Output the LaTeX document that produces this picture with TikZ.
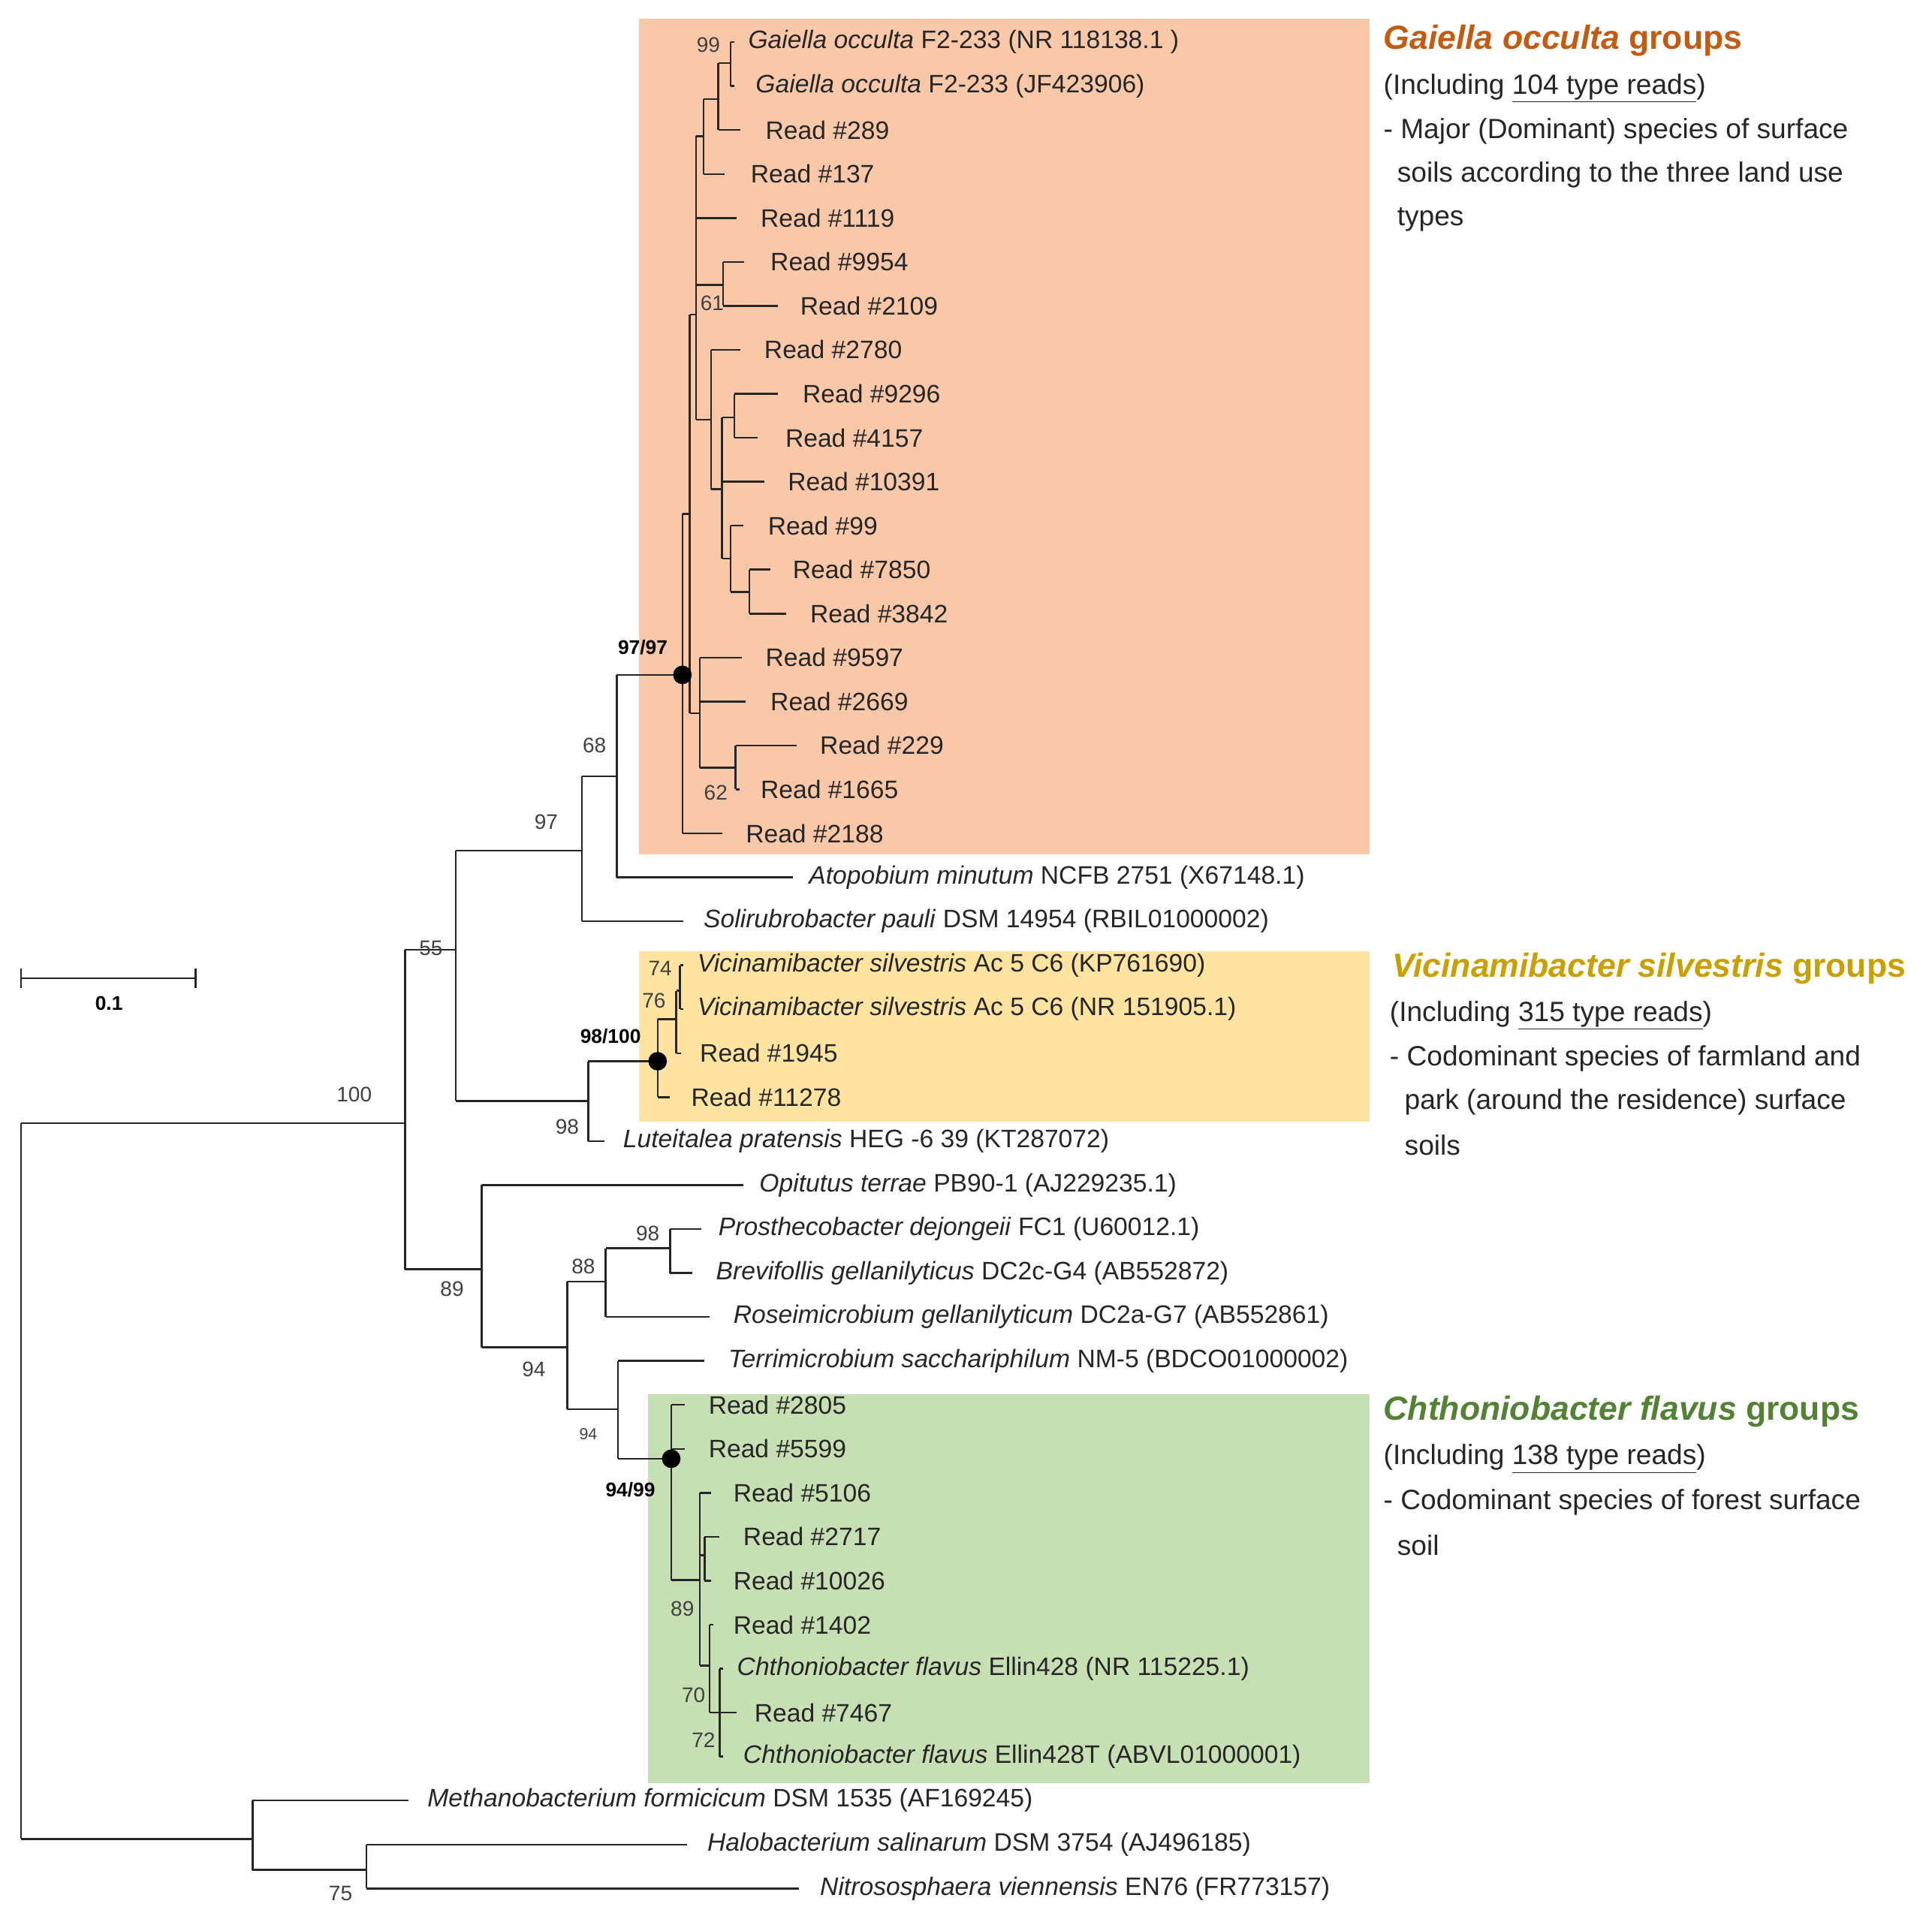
\documentclass[tikz,border=0pt]{standalone}
\usepackage{fontspec}
\setmainfont{Liberation Sans}
\begin{document}
\begin{tikzpicture}[x=1pt,y=-1pt,
  leaf/.style={anchor=west,inner sep=0pt,font=\fontsize{20.4}{20}\selectfont,color=black!85},
  sup/.style={inner sep=0pt,font=\fontsize{17}{17}\selectfont,color=black!75},
  bsup/.style={inner sep=0pt,font=\fontsize{16}{16}\selectfont\bfseries},
  ttl/.style={anchor=west,inner sep=0pt,font=\fontsize{27}{27}\selectfont\bfseries},
  desc/.style={anchor=west,inner sep=0pt,font=\fontsize{22.5}{22}\selectfont,color=black!85},
  br/.style={line width=1.5pt,color=black!85}]
\useasboundingbox (0,0) rectangle (1560,1547);
\fill[white] (0,0) rectangle (1560,1547);
\definecolor{orbox}{HTML}{F8C8A8}
\definecolor{yebox}{HTML}{FFE3A0}
\definecolor{grbox}{HTML}{C6E0B4}
\definecolor{ortx}{HTML}{C55A11}
\definecolor{yetx}{HTML}{C9A000}
\definecolor{grtx}{HTML}{548235}
\fill[orbox] (516,15) rectangle (1106,690);
\fill[yebox] (516,768) rectangle (1106,906);
\fill[grbox] (523,1126) rectangle (1106,1440);
\newcommand\leaf[5]{\coordinate (#1) at (#2,{34+35.5*#3});\node[leaf] (#1t) at (#4,{34+35.5*#3}) {#5};}
\newcommand\kids[2]{\foreach \c in {#2}{\draw[br] (#1 |- \c) -- (\c);}}
\newcommand\vln[3]{\draw[br] (#1 |- #2) -- (#1 |- #3);}
% leaves
\leaf{L0}{593}{0}{604}{\textit{Gaiella occulta} F2-233 (NR 118138.1 )}
\leaf{L1}{593}{1}{610}{\textit{Gaiella occulta} F2-233 (JF423906)}
\leaf{L2}{598}{2}{618}{Read \#289}
\leaf{L3}{585}{3}{606}{Read \#137}
\leaf{L4}{595}{4}{614}{Read \#1119}
\leaf{L5}{601}{5}{622}{Read \#9954}
\leaf{L6}{628}{6}{646}{Read \#2109}
\leaf{L7}{598}{7}{617}{Read \#2780}
\leaf{L8}{628}{8}{648}{Read \#9296}
\leaf{L9}{612}{9}{634}{Read \#4157}
\leaf{L10}{617}{10}{636}{Read \#10391}
\leaf{L11}{600}{11}{620}{Read \#99}
\leaf{L12}{622}{12}{640}{Read \#7850}
\leaf{L13}{635}{13}{654}{Read \#3842}
\leaf{L14}{599}{14}{618}{Read \#9597}
\leaf{L15}{602}{15}{622}{Read \#2669}
\leaf{L16}{643}{16}{662}{Read \#229}
\leaf{L17}{597}{17}{614}{Read \#1665}
\leaf{L18}{583}{18}{602}{Read \#2188}
\leaf{L19}{640}{19}{653}{\textit{Atopobium minutum} NCFB 2751 (X67148.1)}
\leaf{L20}{552}{20}{568}{\textit{Solirubrobacter pauli} DSM 14954 (RBIL01000002)}
\leaf{L21}{552}{21}{563}{\textit{Vicinamibacter silvestris} Ac 5 C6 (KP761690)}
\leaf{L22}{552}{22}{563}{\textit{Vicinamibacter silvestris} Ac 5 C6 (NR 151905.1)}
\leaf{L23}{550}{23}{565}{Read \#1945}
\leaf{L24}{541}{24}{558}{Read \#11278}
\leaf{L25}{488}{25}{503}{\textit{Luteitalea pratensis} HEG -6 39 (KT287072)}
\leaf{L26}{600}{26}{613}{\textit{Opitutus terrae} PB90-1 (AJ229235.1)}
\leaf{L27}{566}{27}{580}{\textit{Prosthecobacter dejongeii} FC1 (U60012.1)}
\leaf{L28}{559}{28}{578}{\textit{Brevifollis gellanilyticus} DC2c-G4 (AB552872)}
\leaf{L29}{573}{29}{592}{\textit{Roseimicrobium gellanilyticum} DC2a-G7 (AB552861)}
\leaf{L30}{569}{30}{588}{\textit{Terrimicrobium sacchariphilum} NM-5 (BDCO01000002)}
\leaf{L31}{553}{31}{572}{Read \#2805}
\leaf{L32}{553}{32}{572}{Read \#5599}
\leaf{L33}{574}{33}{592}{Read \#5106}
\leaf{L34}{581}{34}{600}{Read \#2717}
\leaf{L35}{574}{35}{592}{Read \#10026}
\leaf{L36}{576}{36}{592}{Read \#1402}
\leaf{L37}{584}{37}{595}{\textit{Chthoniobacter flavus} Ellin428 (NR 115225.1)}
\leaf{L38}{595}{38}{609}{Read \#7467}
\leaf{L39}{584}{39}{600}{\textit{Chthoniobacter flavus} Ellin428T (ABVL01000001)}
\leaf{L40}{330}{40}{345}{\textit{Methanobacterium formicicum} DSM 1535 (AF169245)}
\leaf{L41}{555}{41}{571}{\textit{Halobacterium salinarum} DSM 3754 (AJ496185)}
\leaf{L42}{645}{42}{662}{\textit{Nitrososphaera viennensis} EN76 (FR773157)}
% internal nodes
\coordinate (pG) at (590,51);
\coordinate (H) at (580,80);
\coordinate (D) at (568,110);
\coordinate (E) at (584,230);
\coordinate (J) at (593,337);
\coordinate (Lq) at (605,478);
\coordinate (K) at (590,451);
\coordinate (I) at (583,395);
\coordinate (F) at (574,339);
\coordinate (B) at (562,254);
\coordinate (N62) at (594,620);
\coordinate (C) at (565,576);
\coordinate (A) at (557,415);
\coordinate (Dt) at (551,545);
\coordinate (N68) at (498,627);
\coordinate (N97) at (470,687);
\coordinate (Np) at (549,800);
\coordinate (M) at (546,823);
\coordinate (Dv) at (531,857);
\coordinate (N98) at (475,889);
\coordinate (N55) at (368,767);
\coordinate (N98b) at (541,1008);
\coordinate (N88) at (489,1035);
\coordinate (N72) at (581,1383);
\coordinate (N70) at (573,1345);
\coordinate (R) at (569,1256);
\coordinate (N89c) at (565,1276);
\coordinate (Dg) at (542,1178);
\coordinate (N94s) at (499,1138);
\coordinate (N94) at (458,1088);
\coordinate (N89) at (389,1025);
\coordinate (N100) at (327,907);
\coordinate (N75) at (296,1510);
\coordinate (NA) at (204,1485);
\coordinate (Rt) at (17,1200);
% branches
\kids{pG}{L0,L1}\vln{pG}{L0}{L1}
\kids{H}{pG,L2}\vln{H}{pG}{L2}
\kids{D}{H,L3}\vln{D}{H}{L3}
\kids{E}{L5,L6}\vln{E}{L5}{L6}
\kids{J}{L8,L9}\vln{J}{L8}{L9}
\kids{Lq}{L12,L13}\vln{Lq}{L12}{L13}
\kids{K}{L11,Lq}\vln{K}{L11}{Lq}
\kids{I}{J,L10,K}\vln{I}{J}{K}
\kids{F}{L7,I}\vln{F}{L7}{I}
\kids{B}{D,L4,E,F}\vln{B}{D}{F}
\kids{N62}{L16,L17}\vln{N62}{L16}{L17}
\kids{C}{L14,L15,N62}\vln{C}{L14}{N62}
\kids{A}{B,C}\vln{A}{B}{C}
\kids{Dt}{A,L18}\vln{Dt}{A}{L18}
\kids{N68}{Dt,L19}\vln{N68}{Dt}{L19}
\kids{N97}{N68,L20}\vln{N97}{N68}{L20}
\kids{Np}{L21,L22}\vln{Np}{L21}{L22}
\kids{M}{Np,L23}\vln{M}{Np}{L23}
\kids{Dv}{M,L24}\vln{Dv}{M}{L24}
\kids{N98}{Dv,L25}\vln{N98}{Dv}{L25}
\kids{N55}{N97,N98}\vln{N55}{N97}{N98}
\kids{N98b}{L27,L28}\vln{N98b}{L27}{L28}
\kids{N88}{N98b,L29}\vln{N88}{N98b}{L29}
\kids{N72}{L37,L38,L39}\vln{N72}{L37}{L39}
\kids{N70}{L36,N72}\vln{N70}{L36}{N72}
\kids{R}{L34,L35}\vln{R}{L34}{L35}
\kids{N89c}{L33,R,N70}\vln{N89c}{L33}{N70}
\kids{Dg}{L31,L32,N89c}\vln{Dg}{L31}{N89c}
\kids{N94s}{L30,Dg}\vln{N94s}{L30}{Dg}
\kids{N94}{N88,N94s}\vln{N94}{N88}{N94s}
\kids{N89}{L26,N94}\vln{N89}{L26}{N94}
\kids{N100}{N55,N89}\vln{N100}{N55}{N89}
\kids{N75}{L41,L42}\vln{N75}{L41}{L42}
\kids{NA}{L40,N75}\vln{NA}{L40}{N75}
\kids{Rt}{N100,NA}\vln{Rt}{N100}{NA}
\fill (Dt) circle (7.5);
\fill (Dv) circle (7.5);
\fill (Dg) circle (7.5);
% supports
\node[sup] at (572,36) {99};
\node[sup] at (575,245) {61};
\node[sup] at (578,640) {62};
\node[bsup] at (519,523) {97/97};
\node[sup] at (480,602) {68};
\node[sup] at (441,664) {97};
\node[sup] at (348,766) {55};
\node[sup] at (286,884) {100};
\node[sup] at (533,782) {74};
\node[sup] at (528,808) {76};
\node[bsup] at (493,837) {98/100};
\node[sup] at (458,910) {98};
\node[sup] at (365,1041) {89};
\node[sup] at (523,996) {98};
\node[sup] at (471,1023) {88};
\node[sup] at (431,1106) {94};
\node[sup,font=\fontsize{13}{13}\selectfont] at (475,1158) {94};
\node[bsup] at (509,1203) {94/99};
\node[sup] at (551,1299) {89};
\node[sup] at (560,1369) {70};
\node[sup] at (568,1405) {72};
\node[sup] at (275,1529) {75};
% scale bar
\coordinate (sb1) at (17,790);
\coordinate (sb2) at (158,790);
\draw[br] (sb1) -- (sb2);
\draw[br] (17,782) -- (17,798);
\draw[br] (158,782) -- (158,798);
\node[bsup] at (88,810) {0.1};
% group texts
\node[ttl,color=ortx] at (1117,33) {\textit{Gaiella occulta} groups};
\node[desc] at (1117,71) {(Including \underline{104 type reads})};
\node[desc] at (1117,106) {- Major (Dominant) species of surface};
\node[desc] at (1128,141) {soils according to the three land use};
\node[desc] at (1128,177) {types};
\node[ttl,color=yetx] at (1124,782) {\textit{Vicinamibacter silvestris} groups};
\node[desc] at (1122,820) {(Including \underline{315 type reads})};
\node[desc] at (1122,855) {- Codominant species of farmland and};
\node[desc] at (1134,890) {park (around the residence) surface};
\node[desc] at (1134,925) {soils};
\node[ttl,color=grtx] at (1117,1140) {\textit{Chthoniobacter flavus} groups};
\node[desc] at (1117,1178) {(Including \underline{138 type reads})};
\node[desc] at (1117,1213) {- Codominant species of forest surface};
\node[desc] at (1128,1248) {soil};
\end{tikzpicture}
\end{document}
